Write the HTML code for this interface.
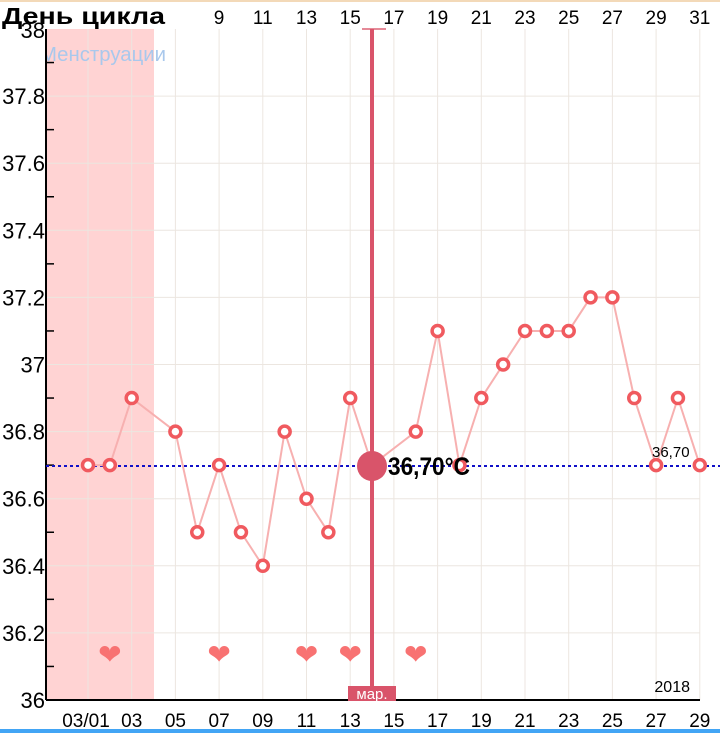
<!DOCTYPE html>
<html><head><meta charset="utf-8"><style>
html,body{margin:0;padding:0;background:#fff;}
svg{display:block;font-family:"Liberation Sans",sans-serif;}
</style></head><body>
<svg id="s" width="720" height="733" xmlns="http://www.w3.org/2000/svg">
<rect x="0" y="0" width="720" height="733" fill="#fff"/>
<rect x="0" y="0" width="720" height="2" fill="#f3d9b8"/>
<rect x="46" y="29" width="108" height="671" fill="#ffd3d3"/>
<g id="grid"></g>
<svg x="46" y="30" width="130" height="40"><text x="-6" y="31" font-size="20" fill="#a9c8ec" textLength="126" lengthAdjust="spacingAndGlyphs">Менструации</text></svg>
<g id="ax"></g>
<line x1="46" y1="29" x2="46" y2="700" stroke="#000" stroke-width="2"/>
<line x1="46" y1="700" x2="700" y2="700" stroke="#000" stroke-width="2"/>
<rect x="362" y="28" width="24" height="2" fill="#e58a98"/>
<line x1="372" y1="29" x2="372" y2="688" stroke="#d9546a" stroke-width="4"/>
<rect x="348" y="686" width="48" height="15" fill="#d9546a"/>
<text x="372" y="699" font-size="15" fill="#fff" text-anchor="middle">мар.</text>
<line x1="46" y1="466" x2="720" y2="466" stroke="#1010c8" stroke-width="2" stroke-dasharray="3,3"/>
<g id="data"></g>
<circle cx="372" cy="466" r="15" fill="#d9546a"/>
<text x="388" y="475" font-size="25" font-weight="bold" fill="#000" textLength="82" lengthAdjust="spacingAndGlyphs">36,70°C</text>
<text x="652" y="457" font-size="15" fill="#000">36,70</text>
<text x="690" y="692" font-size="16" fill="#000" text-anchor="end">2018</text>
<rect x="0" y="0" width="176" height="27" fill="#fff"/>
<rect x="0" y="0" width="720" height="2" fill="#f3d9b8"/>
<text x="2" y="24" font-size="23" font-weight="bold" fill="#000" textLength="163" lengthAdjust="spacingAndGlyphs">День цикла</text>
<text x="45" y="38" font-size="22" text-anchor="end" fill="#000">38</text>
<rect x="0" y="729" width="720" height="4" fill="#42a5f5"/>
</svg>
<script>
var NS="http://www.w3.org/2000/svg";
function X(d){return 88+(d-1)*21.85;}
function Y(t){return 700-(t-36)*335.5;}
function el(p,tag,a,txt){var e=document.createElementNS(NS,tag);for(var k in a)e.setAttribute(k,a[k]);if(txt!=null)e.textContent=txt;document.getElementById(p).appendChild(e);return e;}
for(var d=1;d<=29;d+=2){el("grid","line",{x1:X(d),y1:29,x2:X(d),y2:700,stroke:"#ece6e0","stroke-width":1});}
for(var i=1;i<10;i++){var y=Y(36+i*0.2);el("grid","line",{x1:46,y1:y,x2:700,y2:y,stroke:"#ece6e0","stroke-width":1});}
var labs=["36","36.2","36.4","36.6","36.8","37","37.2","37.4","37.6","37.8"];
for(var i=0;i<10;i++){var y=Y(36+i*0.2);el("ax","text",{x:45,y:y+8,"font-size":22,"text-anchor":"end",fill:"#000"},labs[i]);
 var ym=Y(36.1+i*0.2);el("ax","line",{x1:46,y1:ym,x2:54,y2:ym,stroke:"#000","stroke-width":1.5});}
var bl=[[1,"03/01"],[3,"03"],[5,"05"],[7,"07"],[9,"09"],[11,"11"],[13,"13"],[15,"15"],[17,"17"],[19,"19"],[21,"21"],[23,"23"],[25,"25"],[27,"27"],[29,"29"]];
bl.forEach(function(b){el("ax","text",{x:X(b[0])-(b[0]==1?2:0),y:727,"font-size":19,"text-anchor":"middle",fill:"#000"},b[1]);});
for(var c=9;c<=31;c+=2){var d=c-2;el("ax","text",{x:X(d),y:24,"font-size":19,"text-anchor":"middle",fill:"#000"},String(c));}
var pts=[[1,36.7],[2,36.7],[3,36.9],[5,36.8],[6,36.5],[7,36.7],[8,36.5],[9,36.4],[10,36.8],[11,36.6],[12,36.5],[13,36.9],[14,36.7],[16,36.8],[17,37.1],[18,36.7],[19,36.9],[20,37.0],[21,37.1],[22,37.1],[23,37.1],[24,37.2],[25,37.2],[26,36.9],[27,36.7],[28,36.9],[29,36.7]];
el("data","polyline",{points:pts.map(function(p){return X(p[0])+","+Y(p[1]);}).join(" "),fill:"none",stroke:"#f7b0b0","stroke-width":2});
pts.forEach(function(p){if(p[0]!=14)el("data","circle",{cx:X(p[0]),cy:Y(p[1]),r:5.5,fill:"#fff",stroke:"#f05a5f","stroke-width":3.5});});
[2,7,11,13,16].forEach(function(d){el("data","text",{x:X(d),y:664,"font-size":28,"text-anchor":"middle",fill:"#f87272"},"\u2764");});
</script>
</body></html>
